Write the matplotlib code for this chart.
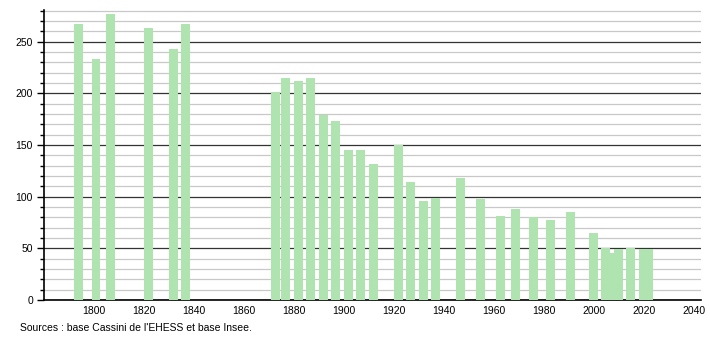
import matplotlib
matplotlib.use("Agg")
import matplotlib.pyplot as plt
from matplotlib.ticker import MultipleLocator

years = [1793, 1800, 1806, 1821, 1831, 1836,
         1872, 1876, 1881, 1886, 1891, 1896, 1901, 1906, 1911,
         1921, 1926, 1931, 1936, 1946, 1954, 1962, 1968, 1975, 1982, 1990,
         1999, 2004, 2006, 2009, 2014, 2019, 2021]
population = [267, 233, 277, 263, 243, 267,
              201, 215, 212, 215, 179, 173, 145, 145, 132,
              150, 114, 96, 99, 118, 98, 81, 88, 80, 77, 85,
              65, 50, 45, 49, 50, 49, 49]
xticks = list(range(1800, 2041, 20))
yticks = list(range(0, 251, 50))
source_text = "Sources : base Cassini de l'EHESS et base Insee."

plt.rcParams['font.family'] = ['Liberation Sans', 'DejaVu Sans']

fig = plt.figure(figsize=(7.1, 3.4), dpi=100)
ax = fig.add_axes([0.062, 0.1176, 0.925, 0.853])

bar_w = 3.6
ax.bar([y - 1 for y in years], population, width=bar_w, align='edge',
       color='#afe3b0', edgecolor='none', zorder=3)

ax.set_xlim(1780, 2042.8)
ax.set_ylim(0, 280.5)

ax.set_xticks(xticks)
ax.set_xticklabels([str(t) for t in xticks])
ax.set_yticks(yticks)
ax.yaxis.set_minor_locator(MultipleLocator(10))

ax.grid(which='minor', axis='y', color='#c8c8c8', linewidth=0.9, zorder=0)
ax.grid(which='major', axis='y', color='#333333', linewidth=0.9, zorder=1)
ax.set_axisbelow(True)

for s in ['top', 'right']:
    ax.spines[s].set_visible(False)
ax.spines['left'].set_color('black')
ax.spines['bottom'].set_color('black')
ax.spines['left'].set_linewidth(1.2)
ax.spines['bottom'].set_linewidth(1.2)

ax.tick_params(axis='x', length=0, labelsize=7.5, pad=4)
ax.tick_params(axis='y', which='major', length=5, width=1, labelsize=7.5, pad=3)
ax.tick_params(axis='y', which='minor', length=3, width=1)

fig.text(20 / 710, 1 - 328 / 340, source_text, fontsize=7.5, va='center', ha='left')

fig.savefig("out.png", dpi=100)
